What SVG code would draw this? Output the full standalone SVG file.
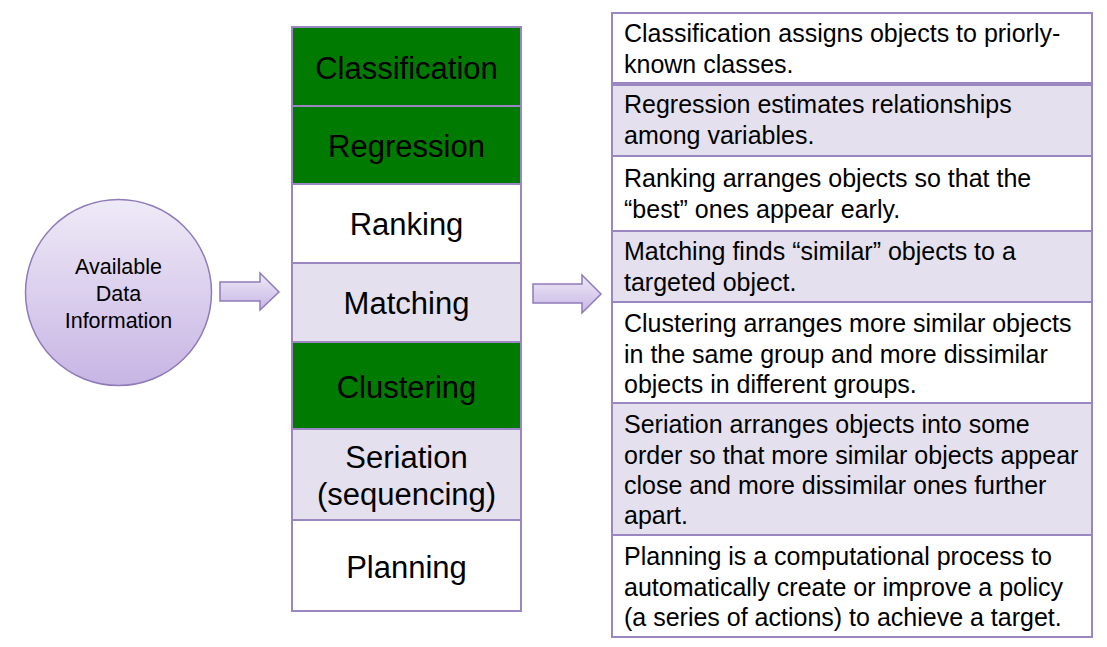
<svg xmlns="http://www.w3.org/2000/svg" width="1107" height="647" viewBox="0 0 1107 647">
<defs>
<linearGradient id="g" x1="0" y1="0" x2="0" y2="1">
<stop offset="0" stop-color="#efeaf7"/>
<stop offset="1" stop-color="#c7b5e4"/>
</linearGradient>
<style>
.t{font-family:"Liberation Sans",Arial,sans-serif;fill:#000}
.m{font-size:31px;text-anchor:middle}
.r{font-size:25px}
.c{font-size:21.5px;text-anchor:middle}
.box{stroke:#9a86c0;stroke-width:2}
.green{fill:#007a00}
.lav{fill:#e5e0ed}
.wh{fill:#fff}
.arr{fill:url(#g);stroke:#8f7bb8;stroke-width:1.5}
</style>
</defs>
<rect width="1107" height="647" fill="#fff"/>
<g id="source">
<circle cx="118.5" cy="292.5" r="93" fill="url(#g)" stroke="#8f7bb8" stroke-width="1.5"/>
<text class="t c" x="118.5" y="274">Available</text>
<text class="t c" x="118.5" y="301">Data</text>
<text class="t c" x="118.5" y="328">Information</text>
</g>
<g id="connectors">
<polygon class="arr" points="220,282 260,282 260,273 279,292 260,310 260,301 220,301"/>
<polygon class="arr" points="533,284 582,284 582,275 601,294 582,313 582,303 533,303"/>
</g>
<g id="tasks">
<g id="n-classification"><rect class="box green" x="292" y="27" width="229" height="79"/><text class="t m" x="406.5" y="79">Classification</text></g>
<g id="n-regression"><rect class="box green" x="292" y="106" width="229" height="78"/><text class="t m" x="406.5" y="157">Regression</text></g>
<g id="n-ranking"><rect class="box wh" x="292" y="184" width="229" height="79"/><text class="t m" x="406.5" y="235">Ranking</text></g>
<g id="n-matching"><rect class="box lav" x="292" y="263" width="229" height="79"/><text class="t m" x="406.5" y="314">Matching</text></g>
<g id="n-clustering"><rect class="box green" x="292" y="342" width="229" height="87"/><text class="t m" x="406.5" y="398">Clustering</text></g>
<g id="n-seriation"><rect class="box lav" x="292" y="429" width="229" height="91"/><text class="t m" x="406.5" y="468">Seriation</text><text class="t m" x="406.5" y="505">(sequencing)</text></g>
<g id="n-planning"><rect class="box wh" x="292" y="520" width="229" height="91"/><text class="t m" x="406.5" y="578">Planning</text></g>
</g>
<g id="descriptions">
<g id="d-classification"><rect class="box wh" x="612" y="13" width="480" height="70"/><text class="t r" x="624" y="42">Classification assigns objects to priorly-</text><text class="t r" x="624" y="73">known classes.</text></g>
<g id="d-regression"><rect class="box lav" x="612" y="85" width="480" height="71"/><text class="t r" x="624" y="113">Regression estimates relationships</text><text class="t r" x="624" y="144">among variables.</text></g>
<g id="d-ranking"><rect class="box wh" x="612" y="156" width="480" height="75"/><text class="t r" x="624" y="187">Ranking arranges objects so that the</text><text class="t r" x="624" y="218">“best” ones appear early.</text></g>
<g id="d-matching"><rect class="box lav" x="612" y="231" width="480" height="71"/><text class="t r" x="624" y="260">Matching finds “similar” objects to a</text><text class="t r" x="624" y="291">targeted object.</text></g>
<g id="d-clustering"><rect class="box wh" x="612" y="302" width="480" height="101"/><text class="t r" x="624" y="332">Clustering arranges more similar objects</text><text class="t r" x="624" y="363">in the same group and more dissimilar</text><text class="t r" x="624" y="393">objects in different groups.</text></g>
<g id="d-seriation"><rect class="box lav" x="612" y="403" width="480" height="132"/><text class="t r" x="624" y="433">Seriation arranges objects into some</text><text class="t r" x="624" y="464">order so that more similar objects appear</text><text class="t r" x="624" y="494">close and more dissimilar ones further</text><text class="t r" x="624" y="524">apart.</text></g>
<g id="d-planning"><rect class="box wh" x="612" y="535" width="480" height="102"/><text class="t r" x="624" y="565">Planning is a computational process to</text><text class="t r" x="624" y="596">automatically create or improve a policy</text><text class="t r" x="624" y="626">(a series of actions) to achieve a target.</text></g>
</g>
</svg>
